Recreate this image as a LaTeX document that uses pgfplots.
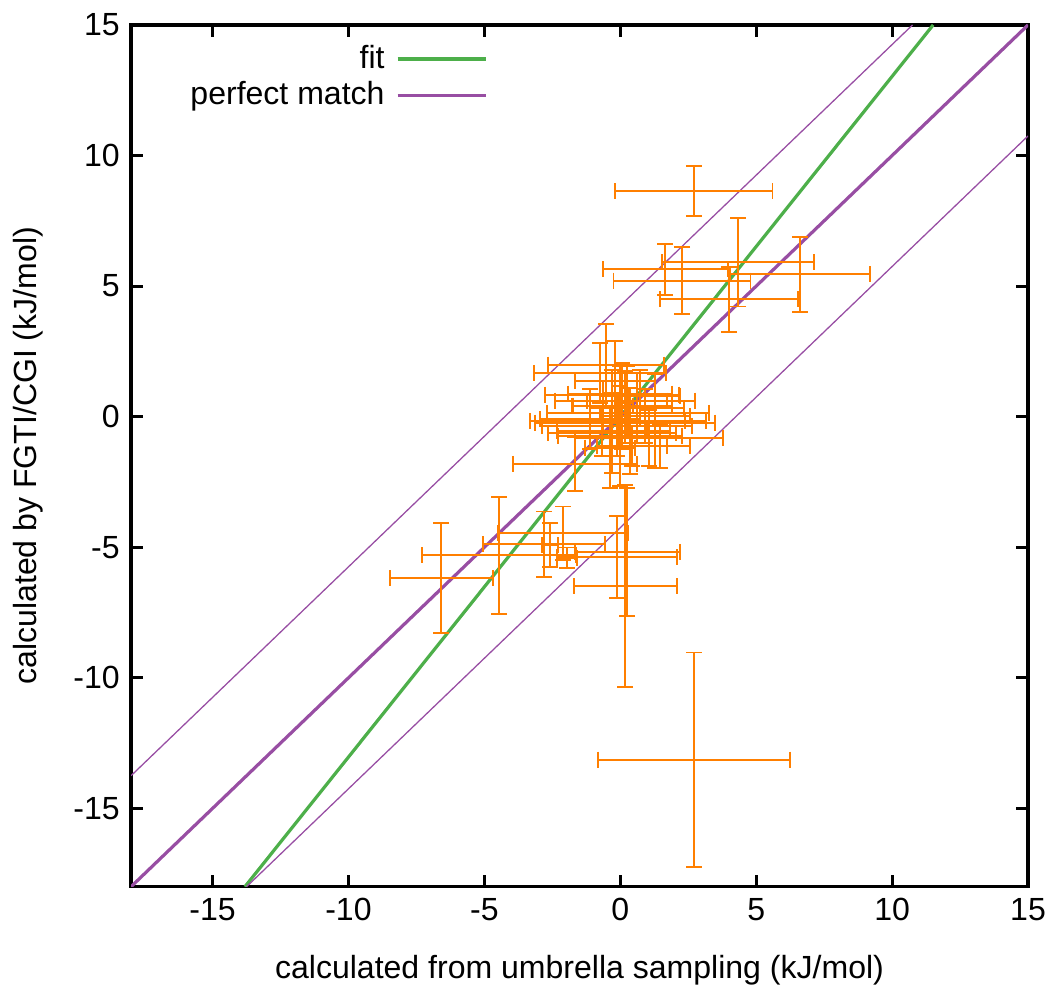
\documentclass[border=0pt]{standalone}
\usepackage{pgfplots}
\pgfplotsset{compat=1.18}
\usepackage{pgfplotstable}
\usepackage{fontspec}
\setmainfont{Liberation Sans}
\usetikzlibrary{calc,plotmarks}
\definecolor{cgreen}{RGB}{77,175,74}
\definecolor{cpurple}{RGB}{152,78,163}
\definecolor{corange}{RGB}{255,127,0}
\pgfplotstableread{
x y ex ey
2.71 8.63 2.89 0.96
1.65 5.64 2.30 0.98
2.27 5.21 2.52 1.27
4.33 5.91 2.81 1.69
6.60 5.45 2.58 1.44
4.00 4.49 2.54 1.23
2.71 -13.13 3.53 4.10
-6.59 -6.18 1.89 2.11
-4.46 -5.30 2.83 2.24
-2.80 -4.88 2.24 1.25
-2.11 -4.46 2.39 1.02
-0.12 -5.38 2.21 1.57
0.18 -6.49 1.89 3.86
0.25 -5.18 1.93 2.46
-1.96 -5.41 0.37 0.40
-2.58 -4.92 0.30 0.85
-0.74 1.68 2.43 1.15
-0.52 1.99 2.13 1.57
-0.30 0.84 2.47 0.96
-0.01 0.88 1.91 1.07
0.18 0.61 2.58 1.15
0.62 0.34 1.73 1.34
-0.08 -0.16 3.24 0.96
0.18 -0.23 3.31 0.77
0.29 0.15 2.98 0.96
-0.12 -0.35 2.76 1.15
-0.30 -0.62 2.35 1.53
1.06 -0.81 2.72 1.07
-0.01 -0.73 2.28 1.92
-1.66 -1.81 2.28 1.04
0.36 -0.54 1.47 1.65
1.28 -0.16 1.10 1.80
-0.63 0.42 1.10 0.96
-0.19 1.38 1.47 1.53
0.73 0.80 1.47 1.00
0.91 0.03 1.66 1.04
-1.11 -0.08 1.84 1.15
-0.67 -0.54 1.66 0.96
1.46 -1.12 1.10 0.84
0.43 -1.12 1.29 0.77
-0.38 -1.19 0.92 1.53
0.07 0.42 1.84 1.65
0.25 0.61 1.47 1.34
}\points
\begin{document}
\begin{tikzpicture}
\begin{axis}[
  scale only axis,
  width=280pt, height=269pt,
  xmin=-18, xmax=15, ymin=-18, ymax=15,
  xtick={-15,-10,-5,0,5,10,15},
  ytick={-15,-10,-5,0,5,10,15},
  /pgf/number format/assume math mode=true,
  tick align=inside,
  major tick length=3.75pt,
  axis line style={line width=1pt},
  every tick/.style={black, line width=1pt},
  xlabel={calculated from umbrella sampling (kJ/mol)},
  ylabel={calculated by FGTI/CGI (kJ/mol)},
  xlabel style={yshift=-4pt},
  ylabel style={yshift=2.5pt},
  legend style={draw=none, fill=none, at={(rel axis cs:0.398,0.985)}, anchor=north east, inner sep=0pt, row sep=-1.4pt, font=\normalsize},
  legend cell align=right,
  legend plot pos=right,
  legend image code/.code={\path (0pt,0pt); \draw[#1] (1.6pt,0pt) -- (29.1pt,0pt);},
  clip=true,
]
\addplot[cgreen, line width=1pt] coordinates {(-13.81,-18) (11.51,15)};
\addlegendentry{fit}
\addplot[cpurple, line width=1pt] coordinates {(-18,-18) (15,15)};
\addlegendentry{perfect match}
\addplot[cpurple, line width=0.4pt, forget plot] coordinates {(-18,-13.75) (10.75,15)};
\addplot[cpurple, line width=0.4pt, forget plot] coordinates {(-13.75,-18) (15,10.75)};
\addplot[draw=none, mark=none, forget plot,
  error bars/.cd, x dir=both, x explicit, y dir=both, y explicit,
  error mark=none,
  error bar style={draw=corange, line width=0.6pt, solid}]
  table[x=x, y=y, x error=ex, y error=ey] {\points};
% caps of the horizontal bars
\addplot[corange, only marks, mark=|, mark size=2.5pt, mark options={line width=0.6pt, solid}, forget plot]
  table[x expr=\thisrow{x}+\thisrow{ex}, y=y] {\points};
\addplot[corange, only marks, mark=|, mark size=2.5pt, mark options={line width=0.6pt, solid}, forget plot]
  table[x expr=\thisrow{x}-\thisrow{ex}, y=y] {\points};
% caps of the vertical bars
\addplot[corange, only marks, mark=-, mark size=2.5pt, mark options={line width=0.6pt, solid}, forget plot]
  table[x=x, y expr=\thisrow{y}+\thisrow{ey}] {\points};
\addplot[corange, only marks, mark=-, mark size=2.5pt, mark options={line width=0.6pt, solid}, forget plot]
  table[x=x, y expr=\thisrow{y}-\thisrow{ey}] {\points};
\coordinate (bl) at (rel axis cs:0,0);
\coordinate (tr) at (rel axis cs:1,1);
\end{axis}
\pgfresetboundingbox
\path[use as bounding box] ($(bl)+(-40.9pt,-32.2pt)$) rectangle ($(tr)+(7.8pt,7.8pt)$);
\end{tikzpicture}
\end{document}
